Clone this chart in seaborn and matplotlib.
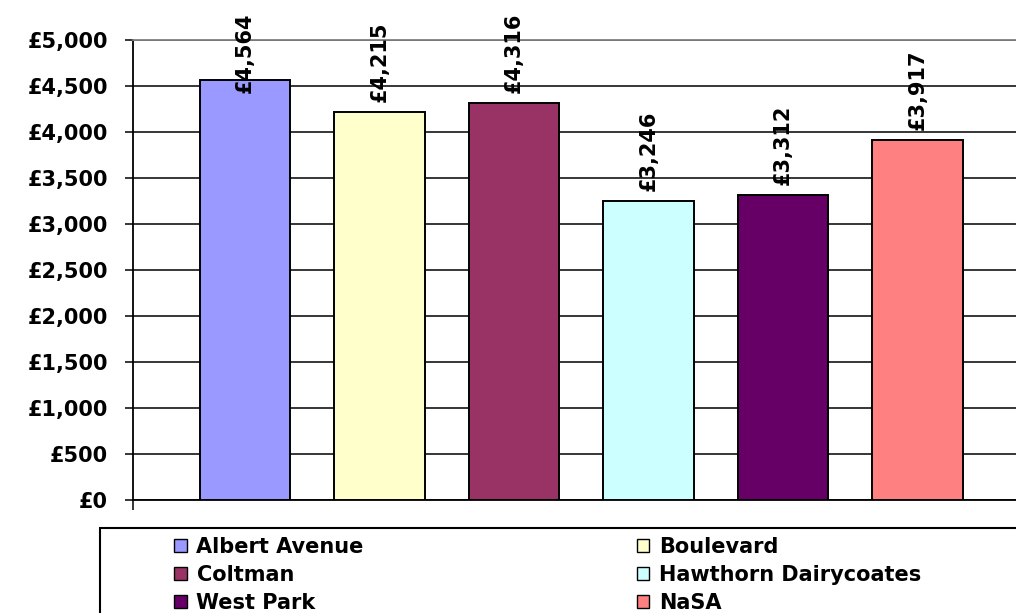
import matplotlib
matplotlib.use("Agg")
import matplotlib.pyplot as plt
from matplotlib.patches import Patch, Rectangle
from matplotlib.ticker import FuncFormatter
import seaborn as sns
import pandas as pd

categories = ["Albert Avenue", "Boulevard", "Coltman", "Hawthorn Dairycoates", "West Park", "NaSA"]
values = [4564, 4215, 4316, 3246, 3312, 3917]
colors = ["#9999FF", "#FFFFCC", "#993366", "#CCFFFF", "#660066", "#FF8080"]
yticks = [0, 500, 1000, 1500, 2000, 2500, 3000, 3500, 4000, 4500, 5000]

sns.set_theme(style="white")
plt.rcParams["font.family"] = ["DejaVu Sans"]
plt.rcParams["text.color"] = "black"
plt.rcParams["ytick.color"] = "black"
plt.rcParams["xtick.color"] = "black"

W, H = 1016, 613
fig = plt.figure(figsize=(W / 100, H / 100), dpi=100)
ax = fig.add_axes([133 / W, 1 - 500 / H, (1030 - 133) / W, (500 - 40) / H])

df = pd.DataFrame({"cat": categories, "val": values})
sns.barplot(data=df, x="cat", y="val", hue="cat", palette=colors, order=categories,
            hue_order=categories, edgecolor="black", linewidth=1.4, width=0.67,
            saturation=1, legend=False, ax=ax, zorder=3)

ax.set_xlim(-0.833, 5.836)
ax.set_ylim(0, 5000)
ax.set_yticks(yticks)
ax.yaxis.set_major_formatter(FuncFormatter(lambda v, p: f"£{v:,.0f}"))
ax.set_axisbelow(True)
ax.yaxis.grid(True, color="black", lw=1.1)
ax.set_xlabel("")
ax.set_ylabel("")
ax.set_xticks([-0.833])
ax.set_xticklabels([""])
ax.tick_params(axis="y", direction="out", length=6, width=1.1, colors="black", pad=12,
               left=True, labelsize=15)
ax.tick_params(axis="x", direction="out", length=7, width=1.1, colors="black", bottom=True)
for lab in ax.get_yticklabels():
    lab.set_fontweight("bold")
for side in ["left", "bottom"]:
    ax.spines[side].set_color("black")
    ax.spines[side].set_linewidth(1.3)
ax.spines["top"].set_color("#808080")
ax.spines["top"].set_linewidth(1.3)
ax.spines["right"].set_visible(False)

# value labels
fig.canvas.draw()
renderer = fig.canvas.get_renderer()
top_limit = 5304
for i, v in enumerate(values):
    t = ax.text(i, v + 110, f"£{v:,.0f}", rotation=90, ha="center", va="bottom",
                fontsize=15, fontweight="bold", color="black", clip_on=False, zorder=5)
    bb = t.get_window_extent(renderer).transformed(ax.transData.inverted())
    if bb.y1 > top_limit:
        t.set_position((i, top_limit))
        t.set_va("top")

# legend frame
fig.patches.append(Rectangle((100 / W, -0.1), 1.0, (1 - 528 / H) + 0.1,
                             transform=fig.transFigure, fill=False,
                             edgecolor="black", lw=1.5, zorder=1))
order = [0, 2, 4, 1, 3, 5]
handles = [Patch(facecolor=colors[k], edgecolor="black", lw=1.0) for k in order]
labels = [categories[k] for k in order]
fig.legend(handles, labels, ncol=2, loc="upper left",
           bbox_to_anchor=(174 / W, 1 - 537 / H), frameon=False,
           handlelength=0.6, handleheight=0.6, handletextpad=0.48,
           columnspacing=13.1, labelspacing=0.38, borderpad=0, borderaxespad=0,
           prop={"weight": "bold", "size": 15})

fig.savefig("out.png", dpi=100)
